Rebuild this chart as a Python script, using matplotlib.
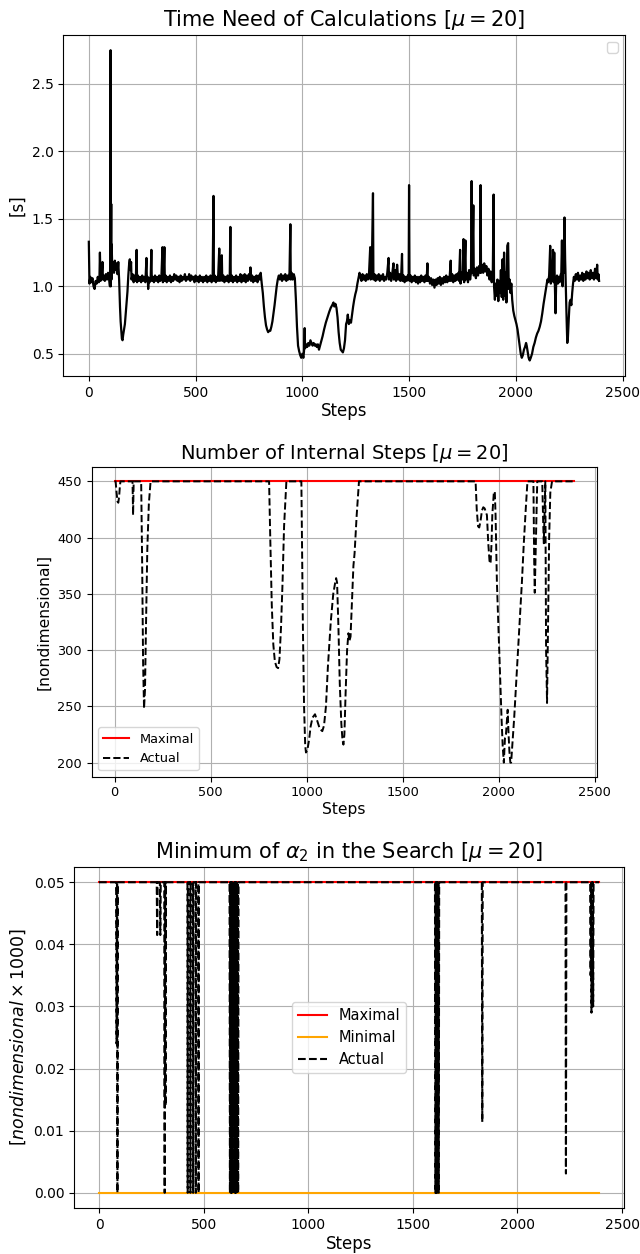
import matplotlib
matplotlib.use("Agg")
import matplotlib.pyplot as plt

# ============================================================
# Data
# ============================================================

# Time need of calculations [s]
time_steps = [
    0, 3, 7, 12, 17, 22, 27, 32, 37, 42, 47, 50, 52, 55, 60, 64, 66, 70, 75, 80,
    85, 90, 95, 99, 101, 102, 103, 105, 106, 107, 110, 114, 118, 122, 126, 130, 134, 138, 142,
    146, 149, 152, 155, 158, 161, 165, 169, 173, 177, 181, 185, 189, 192, 195, 198,
    200, 205, 210, 215, 220, 224, 226, 230, 235, 240, 245, 250, 255, 260, 265, 270, 272, 276,
    278, 281, 285, 290, 293, 295, 300, 305, 310, 315, 320, 325, 330, 335, 340, 345, 347, 350,
    354, 356, 360, 365, 370, 375, 380, 385, 390, 395, 400, 405, 410, 415, 420, 425, 430, 435,
    440, 445, 450, 455, 460, 465, 470, 475, 480, 485, 490, 495, 500, 505, 510, 515, 520, 525,
    530, 535, 540, 545, 550, 555, 560, 565, 570, 575, 580, 584, 586, 590, 595, 600, 605, 611,
    614, 619, 623, 625, 630, 635, 640, 645, 650, 655, 660, 663, 665, 670, 675, 680, 685, 690,
    695, 700, 705, 710, 715, 720, 725, 730, 735, 740, 745, 750, 755, 757, 760, 765, 770, 775,
    780, 785, 790, 795, 800, 805,
    810, 815, 820, 825, 830, 835, 840, 845, 850, 855, 860, 865, 870, 875, 880, 885, 890, 895,
    900, 905, 910, 915, 920, 925, 930, 935, 940, 944, 946, 950, 955, 960, 965,
    970, 975, 980, 985, 990, 995, 1000, 1005, 1008, 1011, 1013, 1018, 1023, 1028, 1033, 1038,
    1043, 1048, 1053, 1058, 1063, 1068, 1073, 1078, 1083, 1088, 1095, 1102, 1110, 1118, 1126,
    1133, 1140, 1146, 1150, 1155, 1160, 1165, 1170, 1175, 1180, 1185, 1190, 1195, 1200, 1205,
    1209, 1213, 1218, 1223, 1228, 1233, 1238, 1243, 1248, 1253, 1258, 1263, 1268,
    1272, 1277, 1282, 1287, 1292, 1297, 1302, 1307, 1312, 1318, 1320, 1325, 1331, 1333, 1338,
    1343, 1348, 1353, 1358, 1363, 1368, 1373, 1378, 1383, 1388, 1393, 1398, 1404, 1406, 1411,
    1416, 1421, 1427, 1429, 1434, 1439, 1444, 1449, 1454, 1459, 1463, 1467, 1469, 1474, 1479,
    1484, 1489, 1494, 1498, 1500, 1502, 1507, 1512, 1517, 1522, 1527, 1532, 1537, 1542, 1547,
    1552, 1557, 1562, 1567, 1572, 1577, 1582, 1586, 1588, 1593, 1598, 1603, 1608, 1613, 1619,
    1624, 1629, 1634, 1639, 1644, 1649, 1654, 1659, 1664, 1669, 1674, 1679, 1684, 1689, 1695,
    1697, 1702, 1707, 1712, 1717, 1722, 1727, 1731, 1734, 1739, 1741, 1746, 1751, 1755, 1758,
    1764, 1766, 1771, 1776, 1781, 1786, 1790, 1793, 1796, 1801, 1803, 1808, 1813, 1818, 1823,
    1828, 1833, 1835, 1837, 1842, 1847, 1852, 1857, 1862, 1867, 1872, 1877, 1882, 1887, 1892,
    1896, 1898, 1902, 1906, 1910, 1914, 1918, 1922, 1926, 1930, 1934, 1938, 1941, 1945, 1949,
    1952, 1956, 1960, 1964, 1967, 1971, 1975, 1979,
    1983, 1988, 1993, 1998, 2003, 2008, 2013, 2018, 2023, 2028, 2033, 2038, 2043, 2048, 2051,
    2055, 2060, 2065, 2070, 2076, 2082, 2088, 2094, 2100, 2106, 2112, 2118, 2124, 2130, 2136,
    2142, 2148, 2152, 2156, 2161, 2164, 2167, 2170, 2174, 2177, 2180, 2183, 2186, 2189, 2193,
    2197, 2201, 2205, 2209, 2213, 2216, 2219, 2222, 2225, 2228, 2231, 2234, 2238, 2241, 2244,
    2248, 2252, 2256, 2260, 2264, 2268, 2272,
    2276, 2281, 2286, 2291, 2296, 2301, 2306, 2311, 2316, 2321, 2326, 2331, 2336, 2341, 2346,
    2351, 2356, 2361, 2366, 2371, 2376, 2381, 2384, 2387, 2390,
]
time_values = [
    1.33, 1.02, 1.07, 1.03, 1.06, 1.00, 0.98, 1.04, 1.02, 1.07, 1.03, 1.08, 1.25, 1.04, 1.07, 1.18, 1.05, 1.08, 1.04, 1.09,
    1.05, 1.10, 1.06, 1.00, 1.35, 2.75, 1.00, 1.61, 1.05, 1.31, 1.12, 1.18, 1.10, 1.19, 1.12, 1.17, 1.09, 1.18, 1.05,
    0.85, 0.74, 0.68, 0.61, 0.60, 0.64, 0.68, 0.72, 0.80, 0.88, 0.96, 1.08, 1.17, 1.20, 1.12, 1.18,
    1.05, 1.09, 1.03, 1.08, 1.04, 1.27, 1.03, 1.08, 1.04, 1.07, 1.03, 1.08, 1.04, 1.07, 1.03, 1.21, 1.04, 1.07,
    0.98, 1.06, 1.03, 1.08, 1.27, 1.04, 1.07, 1.03, 1.08, 1.04, 1.07, 1.03, 1.08, 1.04, 1.07, 1.29, 1.03, 1.07,
    1.29, 1.04, 1.08, 1.03, 1.07, 1.04, 1.08, 1.03, 1.07, 1.04, 1.09, 1.05, 1.08, 1.04, 1.07, 1.03, 1.08, 1.04,
    1.07, 1.05, 1.09, 1.04, 1.07, 1.05, 1.09, 1.04, 1.08, 1.05, 1.07, 1.03, 1.08, 1.04, 1.07, 1.03, 1.08, 1.04,
    1.07, 1.03, 1.07, 1.04, 1.08, 1.03, 1.07, 1.04, 1.08, 1.03, 1.06, 1.67, 1.04, 1.08, 1.03, 1.07, 1.04, 1.28,
    1.04, 1.10, 1.23, 1.04, 1.08, 1.03, 1.07, 1.04, 1.08, 1.03, 1.07, 1.44, 1.04, 1.08, 1.03, 1.07, 1.04, 1.08,
    1.03, 1.07, 1.04, 1.09, 1.03, 1.08, 1.04, 1.09, 1.03, 1.08, 1.04, 1.09, 1.05, 1.14, 1.04, 1.08, 1.03, 1.07,
    1.04, 1.08, 1.03, 1.08, 1.05, 1.10,
    1.02, 0.95, 0.85, 0.77, 0.71, 0.68, 0.66, 0.67, 0.67, 0.70, 0.74, 0.80, 0.86, 0.93, 1.00, 1.05, 1.08, 1.05,
    1.09, 1.04, 1.08, 1.05, 1.09, 1.04, 1.08, 1.05, 1.10, 1.46, 1.05, 1.10, 1.05, 1.09, 1.06,
    0.90, 0.70, 0.56, 0.52, 0.49, 0.47, 0.50, 0.47, 0.52, 0.69, 0.54, 0.57, 0.55, 0.58, 0.56, 0.60,
    0.58, 0.56, 0.58, 0.56, 0.57, 0.55, 0.57, 0.53, 0.56, 0.59, 0.63, 0.68, 0.73, 0.77, 0.81,
    0.84, 0.86, 0.88, 0.85, 0.87, 0.84, 0.77, 0.66, 0.58, 0.53, 0.52, 0.51, 0.54, 0.60, 0.72,
    0.74, 0.79, 0.72, 0.75, 0.73, 0.79, 0.85, 0.90, 0.94, 0.97, 1.02, 1.06, 1.10,
    1.07, 1.04, 1.09, 1.05, 1.08, 1.04, 1.09, 1.05, 1.08, 1.29, 1.05, 1.09, 1.69, 1.05, 1.09,
    1.04, 1.08, 1.05, 1.09, 1.04, 1.08, 1.05, 1.09, 1.04, 1.07, 1.05, 1.10, 1.21, 1.05, 1.10,
    1.04, 1.09, 1.17, 1.05, 1.12, 1.04, 1.16, 1.05, 1.09, 1.04, 1.08, 1.24, 1.04, 1.08, 1.03,
    1.07, 1.04, 1.08, 1.05, 1.75, 1.04, 1.08, 1.03, 1.07, 1.04, 1.08, 1.03, 1.07, 1.02, 1.07,
    1.03, 1.08, 1.04, 1.07, 1.03, 1.08, 1.04, 1.17, 1.04, 1.07, 1.02, 1.06, 1.01, 1.05, 0.99,
    1.05, 1.01, 1.06, 1.02, 1.07, 1.01, 1.06, 1.02, 1.07, 1.03, 1.08, 1.03, 1.07, 1.04, 1.19,
    1.04, 1.09, 1.03, 1.08, 1.04, 1.09, 1.05, 1.10, 1.04, 1.27, 1.02, 1.10, 1.05, 1.35, 1.03,
    1.34, 1.05, 1.10, 1.03, 1.12, 1.05, 1.10, 1.78, 1.10, 1.60, 1.08, 1.13, 1.06, 1.14, 1.08,
    1.15, 1.10, 1.75, 1.10, 1.16, 1.10, 1.17, 1.11, 1.15, 1.08, 1.13, 1.05, 1.11, 1.03, 1.08,
    1.68, 1.00, 0.90, 1.02, 0.93, 1.05, 0.89, 1.04, 0.95, 1.12, 0.92, 1.20, 0.90, 1.25, 0.93,
    1.10, 0.88, 1.30, 1.32, 0.98, 1.05, 0.95, 1.02,
    0.90, 0.82, 0.78, 0.75, 0.72, 0.68, 0.62, 0.56, 0.50, 0.47, 0.49, 0.53, 0.55, 0.58, 0.56,
    0.52, 0.47, 0.45, 0.47, 0.50, 0.55, 0.58, 0.62, 0.65, 0.67, 0.70, 0.74, 0.80, 0.87, 0.93,
    0.99, 1.05, 1.03, 1.08, 1.30, 1.02, 1.10, 1.04, 1.27, 1.03, 1.25, 1.00, 0.80, 1.03, 1.08,
    1.02, 1.07, 1.03, 1.08, 1.10, 1.34, 1.00, 1.30, 1.10, 1.51, 1.20, 1.00, 0.75, 0.58, 0.62,
    0.76, 0.88, 0.90, 0.86, 0.95, 1.02, 1.07,
    1.04, 1.09, 1.05, 1.10, 1.04, 1.08, 1.05, 1.10, 1.04, 1.09, 1.05, 1.11, 1.06, 1.10, 1.05,
    1.12, 1.06, 1.10, 1.05, 1.13, 1.06, 1.16, 1.05, 1.09, 1.04,
]

# Number of internal steps
internal_max_steps = [0, 2390]
internal_max_values = [450, 450]
internal_steps = [
    0, 5, 10, 15, 19, 23, 27, 30, 93, 96, 99, 138, 143, 148, 153, 158, 163, 170, 178, 187,
    804, 810, 818, 826, 834, 843, 851, 858, 866, 874, 882, 894,
    972, 980, 986, 992, 996, 1003, 1012, 1020, 1030, 1043, 1055, 1068, 1081, 1090, 1100, 1110,
    1125, 1138, 1148, 1153, 1158, 1165, 1172, 1180, 1186, 1191, 1196, 1202, 1210, 1217, 1222,
    1228, 1236, 1243, 1249, 1260, 1272,
    1879, 1885, 1892, 1898, 1905, 1912, 1919, 1926, 1932, 1938, 1945, 1952, 1957, 1962, 1966,
    1970, 1974, 1979, 1983, 1990, 1998, 2006, 2014, 2020, 2026, 2032, 2037, 2041, 2046, 2050,
    2055, 2060, 2064, 2070, 2080, 2090, 2100, 2110, 2120, 2130, 2140, 2149,
    2180, 2184, 2187, 2191, 2196, 2200, 2226, 2230, 2234, 2238, 2242, 2246, 2251, 2256, 2262,
    2268, 2277, 2390,
]
internal_values = [
    450, 450, 440, 432, 431, 436, 445, 450, 450, 420, 450, 450, 380, 290, 248, 265, 320, 390, 430, 450,
    450, 400, 340, 305, 290, 285, 284, 292, 320, 360, 410, 450,
    450, 320, 250, 215, 209, 211, 220, 232, 240, 243, 237, 230, 228, 233, 250, 285,
    325, 350, 360, 364, 360, 320, 270, 235, 220, 216, 225, 260, 300, 315, 308,
    312, 345, 375, 386, 420, 450,
    450, 425, 410, 409, 415, 424, 427, 426, 423, 420, 395, 378, 377, 395, 420,
    430, 440, 441, 420, 360, 320, 280, 240, 215, 200, 222, 225, 235, 247, 228,
    210, 200, 200, 215, 240, 270, 300, 330, 360, 395, 425, 450,
    450, 380, 351, 380, 420, 450, 450, 420, 395, 420, 450, 300, 253, 320, 400,
    440, 450, 450,
]

# Minimum of alpha_2 in the search (x 1000)
alpha_max_steps = [0, 2390]
alpha_max_values = [0.05, 0.05]
alpha_min_steps = [0, 2390]
alpha_min_values = [0.0, 0.0]
alpha_steps = [
    0, 82, 84, 86, 87, 88, 90, 276, 278, 280, 291, 293, 295, 312, 314, 316, 317, 318, 320,
    423, 424, 425, 436, 437, 438, 449, 450, 451, 462, 463, 464, 475, 476, 477,
    624, 626, 628, 630, 632, 635, 637, 640, 642, 645, 647, 650, 652, 655, 657, 660, 662, 665, 667,
    1606, 1608, 1610, 1612, 1614, 1616, 1618, 1620, 1622, 1624, 1626,
    1830, 1832, 1834, 2230, 2232, 2234,
    2348, 2350, 2352, 2354, 2356, 2358, 2360, 2362, 2364, 2390,
]
alpha_values = [
    0.05, 0.05, 0.024, 0.05, 0.05, 0.0, 0.05, 0.05, 0.0415, 0.05, 0.05, 0.0415, 0.05, 0.05, 0.0, 0.05, 0.05, 0.014, 0.05,
    0.05, 0.0, 0.05, 0.05, 0.0, 0.05, 0.05, 0.0, 0.05, 0.05, 0.0, 0.05, 0.05, 0.0, 0.05,
    0.05, 0.0, 0.05, 0.0, 0.05, 0.0, 0.05, 0.0, 0.05, 0.0, 0.05, 0.0, 0.05, 0.0, 0.05, 0.0, 0.05, 0.0, 0.05,
    0.05, 0.0, 0.05, 0.0, 0.05, 0.0, 0.05, 0.0, 0.05, 0.0, 0.05,
    0.05, 0.0114, 0.05, 0.05, 0.0031, 0.05,
    0.05, 0.035, 0.05, 0.029, 0.05, 0.034, 0.05, 0.030, 0.05, 0.05,
]

W, H = 640, 1254


def px_axes(fig, left, top, right, bottom):
    return fig.add_axes([left / W, 1 - bottom / H, (right - left) / W, (bottom - top) / H])


def main():
    fig = plt.figure(figsize=(W / 100, H / 100), dpi=100)

    # ---------------- time need ----------------
    ax1 = px_axes(fig, 63.3, 34.7, 624.6, 376)
    ax1.plot(time_steps, time_values, color='black', linewidth=1.6)
    ax1.set_title(r'Time Need of Calculations [$\mu = 20$]', fontsize=15)
    ax1.set_xlabel('Steps', fontsize=12, labelpad=2)
    ax1.set_ylabel('[s]', fontsize=12)
    ax1.grid(True)
    ax1.legend(loc='upper right')

    # ---------------- internal steps (this panel is a bit smaller in the reference) ----------------
    ax2 = px_axes(fig, 91.7, 467.3, 596.7, 776.7)
    ax2.plot(internal_max_steps, internal_max_values, color='red', linewidth=1.5, label='Maximal')
    ax2.plot(internal_steps, internal_values, color='black', linestyle='--', linewidth=1.4, label='Actual')
    ax2.set_title(r'Number of Internal Steps [$\mu = 20$]', fontsize=14)
    ax2.set_xlabel('Steps', fontsize=11.2, labelpad=2)
    ax2.set_ylabel('[nondimensional]', fontsize=11.2)
    ax2.tick_params(labelsize=9.3)
    ax2.grid(True)
    ax2.legend(loc='lower left', fontsize=9.3)

    # ---------------- alpha_2 ----------------
    ax3 = px_axes(fig, 74, 866.7, 624, 1208.3)
    ax3.plot(alpha_max_steps, alpha_max_values, color='red', linewidth=1.5, label='Maximal')
    ax3.plot(alpha_min_steps, alpha_min_values, color='orange', linewidth=1.5, label='Minimal')
    ax3.plot(alpha_steps, alpha_values, color='black', linestyle='--', linewidth=1.5, label='Actual')
    ax3.set_title(r'Minimum of $\alpha_2$ in the Search [$\mu = 20$]', fontsize=15)
    ax3.set_xlabel('Steps', fontsize=12, labelpad=2)
    ax3.set_ylabel(r'$[nondimensional \times 1000]$', fontsize=12.5)
    ax3.grid(True)
    ax3.legend(loc='center', fontsize=10.5)

    fig.savefig('out.png', dpi=100)


if __name__ == "__main__":
    main()
